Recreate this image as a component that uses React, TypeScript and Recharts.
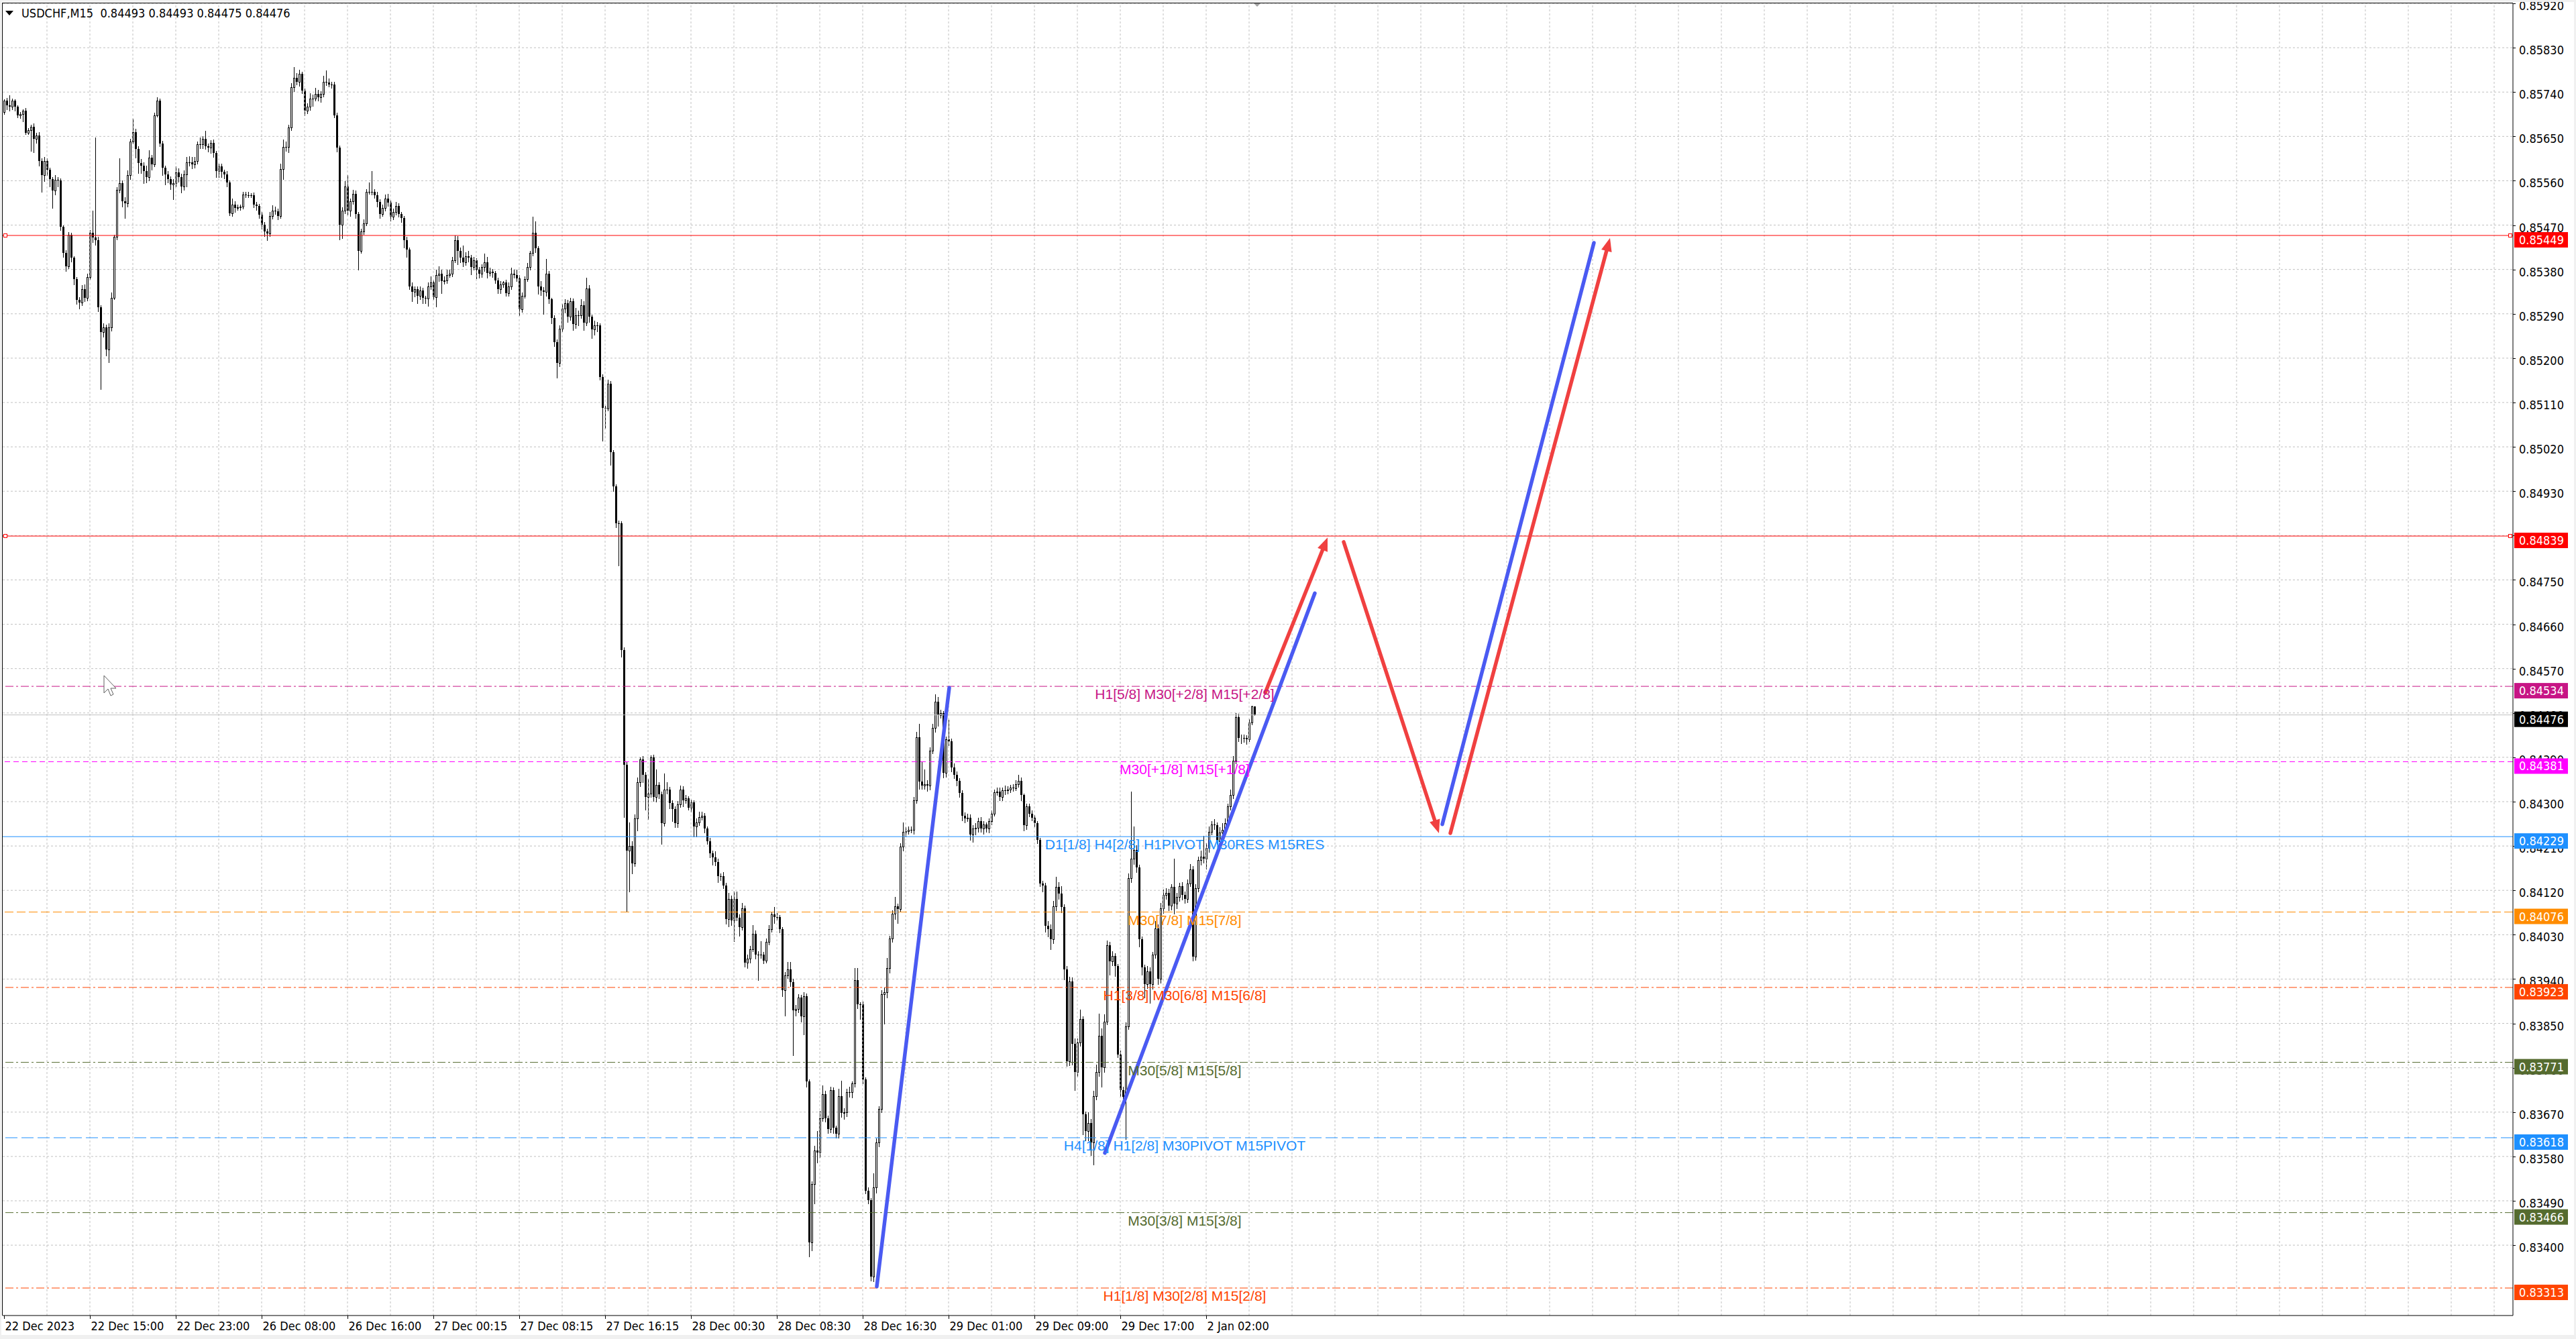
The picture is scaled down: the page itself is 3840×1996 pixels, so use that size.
import { ComposedChart, CartesianGrid, XAxis, YAxis, Bar, ReferenceLine, ReferenceDot } from 'recharts'

const WIDTH = 3840
const HEIGHT = 1996
const POINT = 100000
const AXIS_FONT = "'DejaVu Sans Condensed', 'Liberation Sans', sans-serif"
const LEVEL_FONT = "'Liberation Sans', Arial, sans-serif"

const title = 'USDCHF,M15  0.84493 0.84493 0.84475 0.84476'

// open of the first bar, every later bar opens at the previous close (points, 1e-5)
const firstOpen = 85699

// M15 closes, grouped from the session label that starts each block
const closes22Dec = [
  85722, 85713, 85711, 85722, 85711, 85692, 85696, 85702, 85657, 85663,
  85669, 85645, 85652, 85600, 85571, 85600, 85582, 85564, 85540, 85562,
  85560, 85466, 85414, 85387, 85450, 85404, 85360, 85318, 85313, 85340,
  85322, 85365, 85455, 85445, 85440, 85303, 85253, 85262, 85217, 85262,
  85323, 85446, 85541, 85555, 85518, 85514, 85571, 85640, 85659, 85625,
  85596, 85591, 85580, 85568, 85607, 85593, 85693, 85723, 85636, 85586,
  85573, 85564, 85553, 85555, 85577, 85568, 85548, 85573, 85598, 85598,
  85593, 85600, 85634, 85634, 85645, 85630, 85627, 85637, 85616, 85580,
  85589, 85578, 85573, 85557, 85494, 85512, 85505, 85506, 85507, 85532,
  85531, 85531, 85530, 85512, 85509, 85491,
]
const closes26Dec = [
  85471, 85457, 85453, 85489, 85500, 85498, 85489, 85584, 85629, 85628,
  85668, 85750, 85769, 85761, 85777, 85743, 85702, 85711, 85727, 85727,
  85736, 85730, 85736, 85761, 85760, 85755, 85755, 85693, 85627, 85471,
  85500, 85549, 85499, 85518, 85534, 85493, 85418, 85457, 85473, 85537,
  85537, 85537, 85530, 85517, 85492, 85505, 85524, 85515, 85487, 85497,
  85509, 85492, 85484, 85440, 85421, 85346, 85335, 85340, 85327, 85337,
  85322, 85321, 85346, 85354, 85324, 85369, 85371, 85357, 85358, 85369,
  85371, 85399, 85440, 85418, 85404, 85395, 85407, 85404, 85385, 85398,
  85380, 85371, 85385, 85395, 85373, 85375, 85373, 85358, 85340, 85350,
  85353, 85332, 85346, 85371, 85369, 85362,
]
const closes27Dec = [
  85299, 85327, 85360, 85385, 85413, 85454, 85423, 85346, 85338, 85335,
  85371, 85319, 85282, 85232, 85190, 85260, 85300, 85312, 85284, 85315,
  85269, 85287, 85287, 85307, 85272, 85342, 85284, 85259, 85266, 85266,
  85162, 85099, 85098, 85148, 85009, 84940, 84865, 84865, 84607, 84375,
  84200, 84210, 84175, 84266, 84339, 84386, 84355, 84309, 84316, 84390,
  84310, 84334, 84315, 84256, 84325, 84325, 84297, 84285, 84256, 84295,
  84325, 84303, 84307, 84288, 84299, 84249, 84258, 84269, 84271, 84245,
  84220, 84195, 84187, 84178, 84149, 84149, 84130, 84062, 84103, 84059,
  84103, 84065, 84046, 84084, 83973, 83981, 84001, 84032, 83989, 83989,
  83989, 83978, 84016, 84041, 84071, 84066,
]
const closes28Dec = [
  84066, 84041, 83917, 83948, 83959, 83934, 83876, 83880, 83903, 83864,
  83905, 83732, 83406, 83524, 83592, 83588, 83658, 83707, 83658, 83635,
  83714, 83638, 83626, 83703, 83668, 83670, 83711, 83711, 83728, 83938,
  83889, 83889, 83736, 83511, 83491, 83336, 83517, 83608, 83676, 83909,
  83913, 83963, 84022, 84072, 84087, 84082, 84209, 84239, 84240, 84243,
  84243, 84303, 84431, 84341, 84332, 84335, 84332, 84404, 84450, 84503,
  84476, 84480, 84359, 84426, 84422, 84369, 84355, 84342, 84318, 84272,
  84266, 84268, 84233, 84245, 84247, 84261, 84245, 84254, 84245, 84260,
  84276, 84319, 84320, 84309, 84323, 84323, 84325, 84328, 84327, 84336,
  84342, 84313, 84252, 84290, 84276, 84268,
]
const closes29Dec = [
  84256, 84223, 84134, 84130, 84048, 84041, 84021, 84087, 84127, 84113,
  84086, 83959, 83773, 83935, 83809, 83751, 83811, 83859, 83665, 83632,
  83648, 83608, 83703, 83751, 83825, 83761, 83854, 84008, 83976, 83987,
  83966, 83787, 83715, 83701, 83844, 84145, 84184, 84202, 84167, 84021,
  83964, 83930, 83956, 83930, 83989, 84043, 83940, 84084, 84111, 84115,
  84089, 84127, 84093, 84107, 84129, 84111, 84102, 84134, 84163, 83985,
  84125, 84182, 84188, 84184, 84206, 84239, 84254, 84252, 84220, 84238,
  84243, 84256, 84290, 84313, 84383, 84472, 84429, 84430, 84429, 84427,
  84461, 84493, 84476,
]

// wick lengths above / below the body, in points
const upperWicks22Dec = [
  3, 6, 21, 5, 3, 2, 4, 3, 5, 4, 4, 7, 5, 7, 5, 8, 6, 5, 4, 10,
  6, 5, 4, 5, 6, 4, 3, 5, 6, 8, 10, 6, 5, 45, 203, 6, 5, 8, 6, 8,
  10, 5, 6, 50, 6, 8, 10, 5, 27, 6, 5, 8, 6, 10, 15, 6, 5, 6, 4, 5,
  4, 6, 5, 8, 12, 8, 6, 8, 10, 12, 10, 8, 6, 14, 5, 16, 6, 5, 6, 5,
  6, 6, 5, 6, 4, 12, 6, 5, 4, 6, 5, 6, 4, 6, 5, 4,
]
const lowerWicks22Dec = [
  4, 8, 9, 6, 9, 3, 5, 16, 2, 3, 43, 27, 8, 10, 34, 12, 10, 15, 35, 8,
  12, 6, 8, 10, 5, 8, 10, 8, 13, 6, 7, 5, 4, 10, 10, 8, 116, 10, 12, 25,
  6, 4, 5, 5, 10, 30, 6, 8, 5, 18, 20, 15, 25, 12, 8, 10, 4, 3, 6, 15,
  20, 8, 10, 30, 6, 10, 12, 6, 25, 8, 8, 6, 5, 8, 8, 6, 8, 10, 8, 12,
  12, 10, 8, 8, 4, 6, 8, 4, 5, 4, 4, 5, 4, 6, 8, 6,
]
const upperWicks26Dec = [
  6, 5, 6, 8, 10, 8, 6, 10, 15, 10, 6, 8, 22, 10, 8, 4, 4, 6, 10, 8,
  12, 8, 6, 12, 23, 8, 6, 6, 5, 4, 6, 10, 22, 6, 8, 6, 4, 6, 8, 6,
  20, 43, 6, 8, 5, 6, 8, 10, 5, 6, 8, 5, 4, 5, 6, 4, 8, 6, 5, 8,
  6, 5, 8, 12, 4, 11, 15, 8, 8, 10, 8, 6, 9, 8, 6, 25, 8, 10, 6, 8,
  5, 5, 6, 17, 10, 8, 6, 4, 5, 6, 4, 6, 8, 13, 8, 10,
]
const lowerWicks26Dec = [
  8, 10, 14, 6, 6, 5, 8, 5, 20, 8, 10, 5, 8, 6, 8, 6, 10, 5, 8, 15,
  5, 8, 10, 5, 6, 4, 6, 5, 8, 30, 28, 6, 8, 10, 5, 8, 38, 4, 5, 4,
  4, 5, 5, 10, 8, 4, 5, 6, 8, 5, 6, 5, 8, 15, 16, 6, 20, 10, 15, 8,
  10, 10, 15, 6, 4, 20, 12, 25, 6, 6, 4, 5, 4, 28, 10, 8, 6, 8, 15, 6,
  18, 8, 6, 8, 10, 6, 8, 6, 8, 8, 6, 6, 6, 6, 6, 6,
]
const upperWicks27Dec = [
  6, 6, 6, 8, 5, 33, 23, 4, 10, 6, 31, 6, 4, 5, 6, 6, 10, 8, 6, 8,
  6, 15, 10, 12, 8, 21, 6, 4, 10, 8, 4, 5, 4, 8, 6, 5, 4, 6, 4, 6,
  6, 48, 10, 8, 10, 4, 6, 5, 30, 4, 5, 32, 6, 5, 32, 15, 5, 6, 5, 6,
  8, 6, 6, 4, 5, 4, 8, 10, 8, 6, 4, 6, 5, 12, 6, 6, 8, 5, 12, 6,
  15, 14, 6, 10, 5, 8, 6, 17, 6, 8, 28, 6, 6, 8, 6, 15,
]
const lowerWicks27Dec = [
  12, 5, 4, 4, 5, 5, 8, 16, 10, 45, 8, 8, 12, 8, 30, 7, 6, 8, 10, 6,
  12, 8, 20, 6, 15, 6, 10, 18, 12, 12, 6, 66, 40, 5, 25, 10, 8, 86, 13, 106,
  122, 83, 20, 6, 25, 8, 15, 25, 45, 6, 8, 10, 8, 42, 5, 8, 10, 25, 8, 8,
  6, 12, 6, 4, 8, 20, 20, 6, 6, 8, 6, 8, 15, 8, 12, 8, 6, 10, 15, 10,
  42, 6, 18, 6, 8, 10, 8, 5, 8, 51, 6, 6, 5, 6, 5, 12,
]
const upperWicks28Dec = [
  8, 4, 5, 6, 15, 16, 6, 8, 6, 5, 8, 6, 4, 6, 10, 40, 15, 17, 6, 5,
  8, 6, 5, 15, 30, 8, 6, 10, 4, 25, 25, 4, 5, 4, 6, 4, 29, 8, 6, 8,
  10, 20, 6, 8, 20, 6, 6, 19, 8, 6, 6, 6, 10, 27, 40, 30, 8, 6, 8, 15,
  10, 6, 4, 6, 40, 6, 8, 6, 6, 5, 6, 8, 6, 8, 10, 6, 8, 6, 4, 6,
  6, 6, 8, 8, 6, 10, 6, 6, 8, 8, 12, 7, 4, 6, 6, 6,
]
const lowerWicks28Dec = [
  5, 6, 12, 51, 6, 8, 91, 10, 8, 10, 37, 10, 29, 17, 40, 20, 10, 6, 8, 8,
  6, 10, 8, 8, 8, 12, 8, 10, 12, 6, 8, 30, 8, 6, 6, 8, 10, 10, 8, 6,
  60, 10, 10, 6, 10, 28, 5, 8, 10, 6, 6, 8, 6, 15, 6, 6, 10, 8, 6, 8,
  22, 6, 10, 8, 8, 8, 8, 10, 8, 10, 8, 6, 10, 15, 12, 8, 6, 10, 6, 8,
  6, 4, 6, 6, 6, 8, 6, 6, 5, 4, 6, 10, 10, 8, 6, 6,
]
const upperWicks29Dec = [
  5, 4, 4, 6, 5, 10, 10, 12, 20, 10, 15, 6, 8, 10, 8, 10, 8, 19, 5, 6,
  22, 8, 10, 15, 45, 15, 14, 10, 8, 10, 5, 5, 8, 6, 8, 10, 137, 48, 10, 5,
  6, 5, 10, 8, 6, 15, 8, 10, 10, 10, 8, 6, 57, 8, 6, 8, 6, 8, 10, 6,
  8, 6, 12, 43, 10, 10, 6, 10, 6, 10, 13, 10, 6, 11, 10, 8, 6, 6, 6, 6,
  6, 2, 0,
]
const lowerWicks29Dec = [
  6, 8, 6, 12, 12, 15, 20, 8, 8, 10, 10, 20, 10, 8, 43, 36, 8, 6, 40, 20,
  20, 25, 45, 8, 8, 40, 10, 6, 27, 8, 20, 6, 12, 10, 86, 5, 8, 10, 10, 15,
  15, 28, 8, 38, 10, 6, 10, 8, 10, 8, 10, 8, 20, 10, 8, 10, 8, 6, 6, 7,
  6, 8, 10, 8, 20, 8, 6, 8, 6, 6, 6, 8, 6, 6, 6, 6, 7, 10, 8, 10,
  5, 5, 1,
]

const closes = [...closes22Dec, ...closes26Dec, ...closes27Dec, ...closes28Dec, ...closes29Dec]
const upperWicks = [...upperWicks22Dec, ...upperWicks26Dec, ...upperWicks27Dec, ...upperWicks28Dec, ...upperWicks29Dec]
const lowerWicks = [...lowerWicks22Dec, ...lowerWicks26Dec, ...lowerWicks27Dec, ...lowerWicks28Dec, ...lowerWicks29Dec]

const candles = closes.map((close, i) => {
  const open = i === 0 ? firstOpen : closes[i - 1]
  const high = Math.max(open, close) + upperWicks[i]
  const low = Math.min(open, close) - lowerWicks[i]
  return {
    i,
    open: open / POINT,
    close: close / POINT,
    high: high / POINT,
    low: low / POINT,
    range: [low / POINT, high / POINT],
  }
})

// time scale: bar index; the right half is left empty for the projection
const barDomain = [-0.5, 935]
const priceDomain = [0.832572, 0.8592]

const timeLabelBars = [0, 32, 64, 96, 128, 160, 192, 224, 256, 288, 320, 352, 384, 416, 448]
const timeLabels = [
  '22 Dec 2023', '22 Dec 15:00', '22 Dec 23:00', '26 Dec 08:00', '26 Dec 16:00',
  '27 Dec 00:15', '27 Dec 08:15', '27 Dec 16:15', '28 Dec 00:30', '28 Dec 08:30',
  '28 Dec 16:30', '29 Dec 01:00', '29 Dec 09:00', '29 Dec 17:00', '2 Jan 02:00',
]
const gridBars = Array.from({ length: 58 }, (_, k) => 16 * (k + 1))

const priceTicks = [
  0.8592, 0.8583, 0.8574, 0.8565, 0.8556, 0.8547, 0.8538, 0.8529, 0.852, 0.8511,
  0.8502, 0.8493, 0.8484, 0.8475, 0.8466, 0.8457, 0.8448, 0.8439, 0.843, 0.8421,
  0.8412, 0.8403, 0.8394, 0.8385, 0.8376, 0.8367, 0.8358, 0.8349, 0.834,
]

// Murrey-style levels
const levelPrices = [0.85449, 0.84839, 0.84534, 0.84476, 0.84381, 0.84229, 0.84076, 0.83923, 0.83771, 0.83618, 0.83466, 0.83313]
const levelColors = ['#ff0000', '#ff0000', '#c71585', '#c0c0c0', '#ff00ff', '#1e90ff', '#ff8c00', '#ff4500', '#556b2f', '#1e90ff', '#556b2f', '#ff4500']
const levelTagColors = ['#ff0000', '#ff0000', '#c71585', '#000000', '#ff00ff', '#1e90ff', '#ff8c00', '#ff4500', '#556b2f', '#1e90ff', '#556b2f', '#ff4500']
const levelDashes = ['', '', '12 4 3 4', '', '8 5', '', '13 5', '12 4 3 4', '12 4 3 4', '18 6', '12 4 3 4', '12 4 3 4']
const levelTexts = [
  '', '', 'H1[5/8] M30[+2/8] M15[+2/8]', '', 'M30[+1/8] M15[+1/8]',
  'D1[1/8] H4[2/8] H1PIVOT M30RES M15RES', 'M30[7/8] M15[7/8]', 'H1[3/8] M30[6/8] M15[6/8]',
  'M30[5/8] M15[5/8]', 'H4[1/8] H1[2/8] M30PIVOT M15PIVOT', 'M30[3/8] M15[3/8]', 'H1[1/8] M30[2/8] M15[2/8]',
]
const levelTextBar = 440
const handleBars = [0.5, 934]

// axis ticks: the plain scale first, level tags last so they paint on top
const axisTicks = [...priceTicks, ...levelPrices]

// projection legs: [bar, price] start and end
const blueLegs = [
  [[325.25, 0.83316], [352.25, 0.84531]],
  [[410.25, 0.83587], [488.5, 0.84723]],
  [[536, 0.84254], [592.5, 0.85434]],
]
const redLegs = [
  [[470, 0.84521], [493.25, 0.84836]],
  [[499.25, 0.84827], [534.75, 0.84236]],
  [[539, 0.84236], [598.5, 0.85444]],
]
const shiftBar = 467

function Candle(props: any) {
  const { x, y, width, height, payload } = props
  if (!payload || height == null) return null
  const top = Math.min(y, y + height)
  const scale = Math.abs(height) / (payload.high - payload.low)
  const toY = (p: number) => Math.round(top + (payload.high - p) * scale)
  const cx = Math.round(x + width / 2)
  const yHigh = toY(payload.high)
  const yLow = toY(payload.low)
  const yOpen = toY(payload.open)
  const yClose = toY(payload.close)
  const bodyTop = Math.min(yOpen, yClose)
  const bodyBottom = Math.max(yOpen, yClose)
  const rising = payload.close > payload.open
  return (
    <g>
      <line x1={cx + 0.5} x2={cx + 0.5} y1={yHigh} y2={yLow + 1} stroke="#000" strokeWidth={1} />
      {rising ? (
        <rect x={cx - 0.5} y={bodyTop + 0.5} width={2} height={Math.max(bodyBottom - bodyTop, 0)} fill="#fff" stroke="#000" strokeWidth={1} />
      ) : (
        <rect x={cx - 1} y={bodyTop} width={3} height={Math.max(bodyBottom - bodyTop, 1)} fill="#000" />
      )}
    </g>
  )
}

function TimeTick(props: any) {
  const { x, y, payload } = props
  const k = timeLabelBars.indexOf(payload.value)
  const px = Math.round(x) + 0.5
  return (
    <g>
      <line x1={px} x2={px} y1={y} y2={y + 5} stroke="#000" strokeWidth={1} />
      <text x={px + 1} y={y + 22} fontSize={18} fontFamily={AXIS_FONT} fill="#000">
        {timeLabels[k]}
      </text>
    </g>
  )
}

function PriceTick(props: any) {
  const { x, y, payload, index } = props
  const tag = index - priceTicks.length
  if (tag >= 0) {
    return (
      <g>
        <rect x={x + 2} y={y - 5} width={80} height={23} fill={levelTagColors[tag]} />
        <text x={x + 9} y={y + 13} fontSize={18} fontFamily={AXIS_FONT} fill="#fff">
          {payload.value.toFixed(5)}
        </text>
      </g>
    )
  }
  const py = Math.round(y) + 0.5
  return (
    <g>
      <line x1={x} x2={x + 4} y1={py} y2={py} stroke="#000" strokeWidth={1} />
      <text x={x + 9} y={y + 10} fontSize={18} fontFamily={AXIS_FONT} fill="#000">
        {payload.value.toFixed(5)}
      </text>
    </g>
  )
}

function legShape(color: string, head: boolean) {
  return (p: any) => {
    const { x1, y1, x2, y2 } = p
    const a = Math.atan2(y2 - y1, x2 - x1)
    const len = 20
    const half = 8
    const bx = x2 - len * Math.cos(a)
    const by = y2 - len * Math.sin(a)
    const nx = -Math.sin(a) * half
    const ny = Math.cos(a) * half
    return (
      <g>
        <line x1={x1} y1={y1} x2={head ? bx : x2} y2={head ? by : y2} stroke={color} strokeWidth={5.5} strokeLinecap="round" />
        {head && <polygon points={`${x2},${y2} ${bx + nx},${by + ny} ${bx - nx},${by - ny}`} fill={color} />}
      </g>
    )
  }
}

export default function App() {
  return (
    <div style={{ position: 'absolute', left: 0, top: 0, width: WIDTH, height: HEIGHT, background: '#fff', overflow: 'hidden' }}>
      <ComposedChart
        width={WIDTH}
        height={HEIGHT}
        data={candles}
        margin={{ top: 5, right: 0, bottom: 0, left: 4 }}
      >
        <CartesianGrid vertical={false} horizontalValues={priceTicks} stroke="#c0c0c0" strokeDasharray="3 3" />
        {gridBars.map((b) => (
          <ReferenceLine key={`g${b}`} x={b} stroke="#c0c0c0" strokeDasharray="3 3" />
        ))}
        <XAxis
          dataKey="i"
          type="number"
          domain={barDomain}
          allowDataOverflow
          ticks={timeLabelBars}
          interval={0}
          tick={<TimeTick />}
          tickLine={false}
          tickSize={0}
          tickMargin={0}
          axisLine={{ stroke: '#000' }}
          height={35}
        />
        <YAxis
          type="number"
          orientation="right"
          domain={priceDomain}
          allowDataOverflow
          ticks={axisTicks}
          interval={0}
          tick={<PriceTick />}
          tickLine={false}
          tickSize={0}
          tickMargin={0}
          axisLine={{ stroke: '#000' }}
          width={94}
        />
        {levelPrices.map((p, k) => (
          <ReferenceLine key={`l${k}`} y={p} stroke={levelColors[k]} strokeWidth={1} strokeDasharray={levelDashes[k] || undefined} />
        ))}
        {levelPrices.map((p, k) =>
          levelTexts[k] ? (
            <ReferenceDot
              key={`t${k}`}
              x={levelTextBar}
              y={p}
              r={0}
              shape={(d: any) => (
                <text x={d.cx} y={d.cy + 19} textAnchor="middle" fontSize={21} fontFamily={LEVEL_FONT} fill={levelTagColors[k]}>
                  {levelTexts[k]}
                </text>
              )}
            />
          ) : null,
        )}
        {[0, 1].map((k) =>
          handleBars.map((b) => (
            <ReferenceDot
              key={`h${k}${b}`}
              x={b}
              y={levelPrices[k]}
              r={0}
              shape={(d: any) => (
                <rect x={Math.round(d.cx) - 2.5} y={Math.round(d.cy) - 2.5} width={5} height={5} fill="#fff" stroke="#ff0000" strokeWidth={1} />
              )}
            />
          )),
        )}
        <Bar dataKey="range" barSize={3} shape={<Candle />} isAnimationActive={false} />
        {blueLegs.map((leg, k) => (
          <ReferenceLine
            key={`b${k}`}
            segment={[{ x: leg[0][0], y: leg[0][1] }, { x: leg[1][0], y: leg[1][1] }]}
            shape={legShape('#4a5af2', false)}
          />
        ))}
        {redLegs.map((leg, k) => (
          <ReferenceLine
            key={`r${k}`}
            segment={[{ x: leg[0][0], y: leg[0][1] }, { x: leg[1][0], y: leg[1][1] }]}
            shape={legShape('#f04040', true)}
          />
        ))}
        <ReferenceDot
          x={shiftBar}
          y={priceDomain[1]}
          r={0}
          shape={(d: any) => (
            <polygon points={`${d.cx - 6},${d.cy - 1} ${d.cx + 6},${d.cy - 1} ${d.cx},${d.cy + 5}`} fill="#a0a0a0" />
          )}
        />
      </ComposedChart>
      <svg
        width={WIDTH}
        height={HEIGHT}
        style={{ position: 'absolute', left: 0, top: 0, pointerEvents: 'none' }}
      >
        <rect x={0} y={0} width={WIDTH} height={3} fill="#f0f0f0" />
        <rect x={0} y={0} width={2} height={HEIGHT} fill="#f0f0f0" />
        <rect x={0} y={1990} width={WIDTH} height={6} fill="#f0f0f0" />
        <rect x={3837} y={0} width={3} height={HEIGHT} fill="#f0f0f0" />
        <line x1={3.5} x2={3.5} y1={4} y2={1961} stroke="#000" strokeWidth={1} />
        <line x1={3} x2={3746} y1={4.5} y2={4.5} stroke="#000" strokeWidth={1} />
        <polygon points="8,16 20,16 14,23" fill="#000" />
        <text x={32} y={26} fontSize={18} fontFamily={AXIS_FONT} fill="#000" style={{ whiteSpace: 'pre' }}>
          {title}
        </text>
        <path
          d="M155,1007 L155,1033 L161,1027 L165,1037 L169,1035 L165,1026 L173,1026 Z"
          fill="#fff"
          stroke="#606060"
          strokeWidth={1}
        />
      </svg>
    </div>
  )
}
